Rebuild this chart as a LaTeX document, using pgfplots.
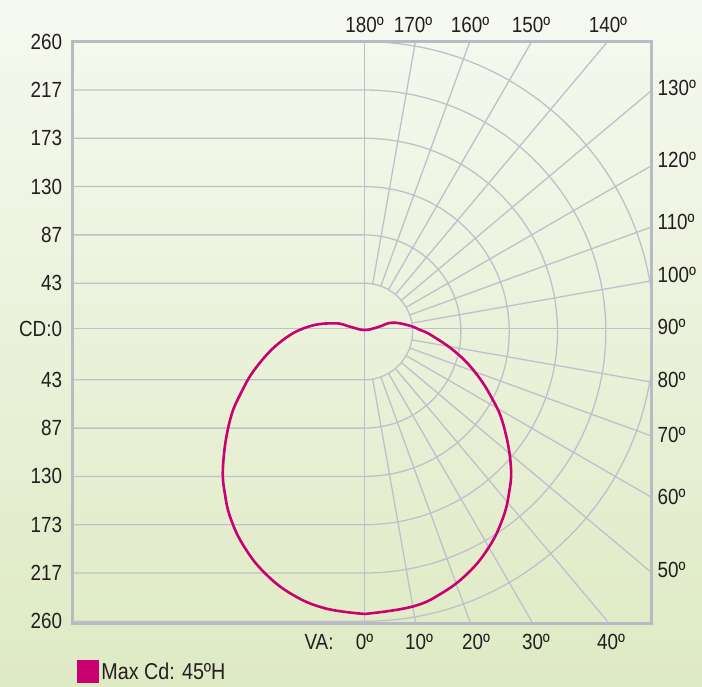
\documentclass[border=0pt]{standalone}
\usepackage{pgfplots}
\pgfplotsset{compat=1.18}
\usepackage{pgfplotstable}
\usepackage{fontspec}
\setmainfont{Liberation Sans}[FakeStretch=0.86]

\definecolor{bgtop}{RGB}{246,249,240}
\definecolor{bgbot}{RGB}{222,234,196}
\definecolor{gridc}{RGB}{192,192,202}
\definecolor{framec}{RGB}{186,186,196}
\definecolor{curvec}{RGB}{200,0,112}
\definecolor{txt}{RGB}{35,31,32}

% luminous intensity (cd) against vertical angle (deg from nadir), left half negative
\pgfplotstableread{
va cd
0.1 253.4
9.75 250.6
16.45 244.9
23.26 235.8
29.75 224.0
35.83 210.4
41.45 195.7
47.66 177.8
56.09 150.4
62.41 129.2
69.92 105.6
77.5 83.3
86.7 60.4
91.6 50.1
98.0 39.9
107.8 25.8
107.8 13.2
180 1.35
-108.6 13.5
-105.6 27.3
-94.9 50.4
-83.7 74.1
-72.5 99.9
-63.9 122.5
-56.2 145.4
-46.6 174.4
-40.4 192.7
-34.9 207.8
-28.8 221.9
-22.3 234.5
-15.36 244.6
-8.1 250.8
0.1 253.4
}\lumdata

\begin{document}
\begin{tikzpicture}[every node/.append style={text=txt}]
\path[use as bounding box] (-364.3bp,-355.5bp) rectangle (337.7bp,331.5bp);
\shade[top color=bgtop, bottom color=bgbot] (-364.3bp,-355.5bp) rectangle (337.7bp,331.5bp);
\begin{axis}[
  anchor=origin, at={(0,0)},
  x=1.1147bp, y=1.1147bp,
  xmin=-261.6, xmax=257.8,
  ymin=-261.8, ymax=260.2,
  clip=false,
  axis on top,
  axis line style={framec, line width=3bp},
  major tick length=0pt,
  ytick={-260,-216.667,-173.333,-130,-86.667,-43.333,2.5,43.333,86.667,130,173.333,216.667,260},
  yticklabels={260,217,173,130,87,43,CD:0,43,87,130,173,217,260},
  xtick={-40.6,0.2,49.1,100.2,154.0,221.3},
  xticklabels={VA:,0º,10º,20º,30º,40º},
  yticklabel style={inner sep=0pt, anchor=east, xshift=-10.5bp},
  xticklabel style={inner sep=0pt, anchor=north, yshift=-10.5bp},
  tick label style={font=\fontsize{22}{24}\selectfont, text=txt},
  legend style={at={(axis cs:-258.1,-305.2)}, anchor=west, draw=none, fill=none,
    inner sep=0pt, font=\fontsize{23}{25}\selectfont, text=txt},
  legend image code/.code={\fill[curvec] (0bp,-10bp) rectangle (20bp,10bp);},
]
\begin{scope}
\clip (rel axis cs:0,0) rectangle (rel axis cs:1,1);
\pgfplotsinvokeforeach{1,2,3,4,5,6}{
  \draw[gridc, line width=1.3bp] (axis cs:-300,{#1*43.333}) -- (axis cs:0,{#1*43.333})
    arc[start angle=90, end angle=-90, radius=#1*48.304bp] -- (axis cs:-300,{-#1*43.333});
}
\pgfplotsinvokeforeach{10,20,30,40,50,60,70,80,100,110,120,130,140,150,160,170}{
  \draw[gridc, line width=1.3bp] (axis cs:0,0) ++(#1-90:48.304bp) -- ++(#1-90:700bp);
}
\draw[gridc, line width=1.3bp] (axis cs:0,-300) -- (axis cs:0,300);
\draw[gridc, line width=1.3bp] (axis cs:-300,2.5) -- (axis cs:300,2.5);
\end{scope}

% polar (angle from nadir, cd) turned into the diagram's x/y
\addplot[color=curvec, line width=2.6bp, mark=none, smooth, tension=0.7]
  table[x expr={\thisrow{cd}*sin(\thisrow{va})}, y expr={-\thisrow{cd}*cos(\thisrow{va})}] {\lumdata};
\addlegendentry{Max Cd: 45ºH}

\begin{scope}[font=\fontsize{22}{24}\selectfont]
\node[inner sep=0pt] at (axis cs:0.2,275.4) {180º};
\node[inner sep=0pt] at (axis cs:43.8,275.4) {170º};
\node[inner sep=0pt] at (axis cs:94.9,275.4) {160º};
\node[inner sep=0pt] at (axis cs:149.6,275.4) {150º};
\node[inner sep=0pt] at (axis cs:218.6,275.4) {140º};
\node[inner sep=0pt, anchor=west] at (axis cs:263,218.4) {130º};
\node[inner sep=0pt, anchor=west] at (axis cs:263,154.1) {120º};
\node[inner sep=0pt, anchor=west] at (axis cs:263,98.5) {110º};
\node[inner sep=0pt, anchor=west] at (axis cs:263,50.7) {100º};
\node[inner sep=0pt, anchor=west] at (axis cs:263,4.0) {90º};
\node[inner sep=0pt, anchor=west] at (axis cs:263,-43.5) {80º};
\node[inner sep=0pt, anchor=west] at (axis cs:263,-92.8) {70º};
\node[inner sep=0pt, anchor=west] at (axis cs:263,-148.2) {60º};
\node[inner sep=0pt, anchor=west] at (axis cs:263,-214.3) {50º};
\end{scope}
\end{axis}
\end{tikzpicture}
\end{document}
